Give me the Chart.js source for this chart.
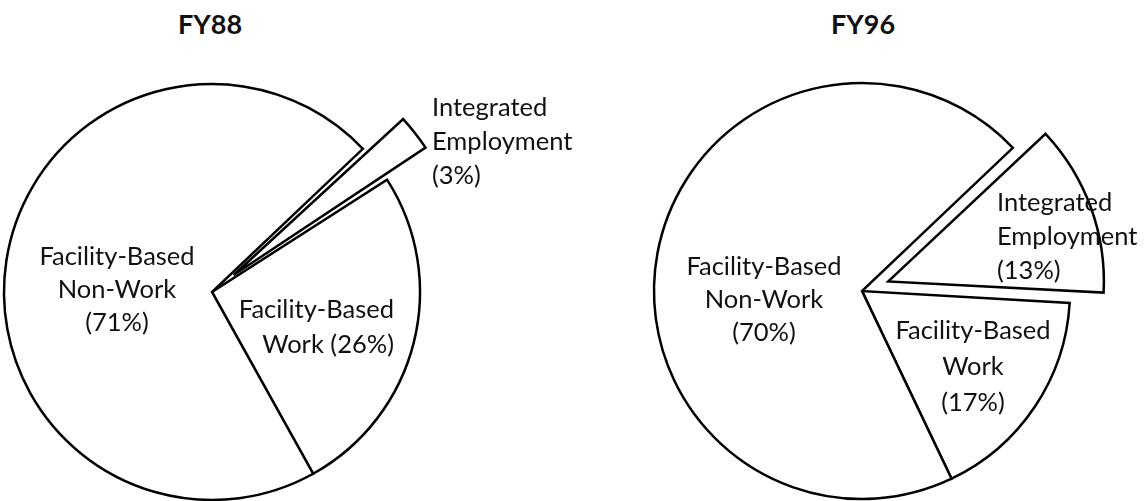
<!DOCTYPE html>
<html>
<head>
<meta charset="utf-8">
<script src="https://cdn.jsdelivr.net/npm/chart.js@4"></script>
<style>
  html, body { margin: 0; padding: 0; background: #fff; overflow: hidden; }
  body { width: 1148px; height: 501px; position: relative; font-family: Lato, "Open Sans", sans-serif; color: #111; }
  .title { position: absolute; top: 8px; width: 200px; text-align: center; font-weight: bold; font-size: 27px; line-height: 32px; }
  .pie { position: absolute; width: 500px; height: 500px; }
  .lbl { position: absolute; font-size: 25.5px; white-space: nowrap; }
</style>
</head>
<body>
<div class="title" id="t0" style="left:110px"></div>
<div class="title" id="t1" style="left:763px"></div>
<canvas class="pie" id="pie0" width="500" height="500" style="left:-38px; top:42px"></canvas>
<canvas class="pie" id="pie1" width="500" height="500" style="left:612px; top:41px"></canvas>
<script>
// data
const years = ['FY88', 'FY96'];
const categories = ['Integrated Employment', 'Facility-Based Work', 'Facility-Based Non-Work'];
const fy88Values = [3, 26, 71];
const fy96Values = [13, 17, 70];

// label lines for each slice (text only)
const fy88Lines = [
  ['Integrated', 'Employment', '(' + fy88Values[0] + '%)'],
  ['Facility-Based', 'Work (' + fy88Values[1] + '%)'],
  ['Facility-Based', 'Non-Work', '(' + fy88Values[2] + '%)']
];
const fy96Lines = [
  ['Integrated', 'Employment', '(' + fy96Values[0] + '%)'],
  ['Facility-Based', 'Work', '(' + fy96Values[1] + '%)'],
  ['Facility-Based', 'Non-Work', '(' + fy96Values[2] + '%)']
];

document.getElementById('t0').textContent = years[0];
document.getElementById('t1').textContent = years[1];

function addLabel(lines, x, top, lh, align) {
  const d = document.createElement('div');
  d.className = 'lbl';
  d.style.top = top + 'px';
  d.style.lineHeight = lh + 'px';
  d.style.textAlign = align;
  if (align === 'left') d.style.left = x + 'px';
  else if (align === 'right') d.style.right = (1148 - x) + 'px';
  else { d.style.left = (x - 100) + 'px'; d.style.width = '200px'; }
  d.innerHTML = lines.join('<br>');
  document.body.appendChild(d);
}

// FY88 labels
addLabel(fy88Lines[0], 432, 89, 34, 'left');
addLabel(fy88Lines[1], 394, 291, 35, 'right');
addLabel(fy88Lines[2], 117, 239, 33, 'center');
// FY96 labels
addLabel(fy96Lines[0], 997, 184, 34, 'left');
addLabel(fy96Lines[1], 973, 311, 36, 'center');
addLabel(fy96Lines[2], 764, 249, 33, 'center');

// chart.js arc offset is divided by 4 when drawn, so 110 -> ~27px shift
function makePie(id, values, rotation, offsets) {
  const ctx = document.getElementById(id).getContext('2d');
  return new Chart(ctx, {
    type: 'pie',
    data: {
      labels: categories,
      datasets: [{
        data: values,
        backgroundColor: '#ffffff',
        borderColor: '#000000',
        borderWidth: 2.5,
        borderJoinStyle: 'miter',
        borderAlign: 'center',
        offset: offsets,
        radius: 208
      }]
    },
    options: {
      responsive: false,
      animation: false,
      rotation: rotation,
      layout: { padding: 0 },
      plugins: {
        legend: { display: false },
        tooltip: { enabled: false },
        title: { display: false }
      }
    }
  });
}

makePie('pie0', fy88Values, 46.5, [110, 0, 0]);
makePie('pie1', fy96Values, 46.5, [112, 0, 0]);
</script>
</body>
</html>
